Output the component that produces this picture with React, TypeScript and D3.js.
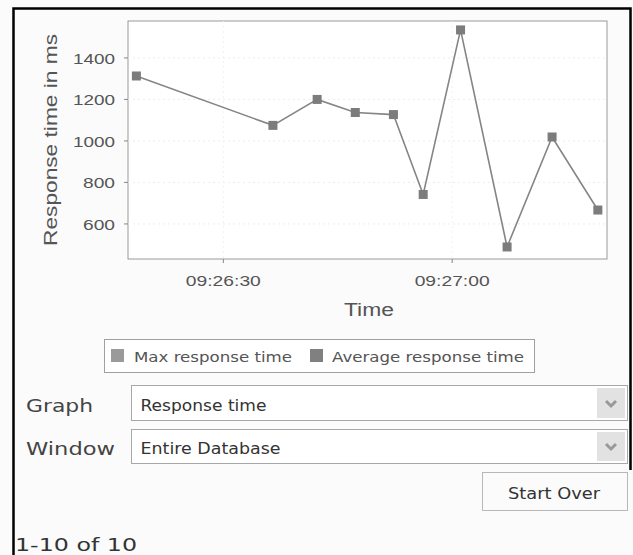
import React from "react";
import * as d3 from "d3";

const times = ["09:26:18.6", "09:26:36.5", "09:26:42.3", "09:26:47.3", "09:26:52.3", "09:26:56.2", "09:27:01.1", "09:27:07.2", "09:27:13.1", "09:27:19.1"];
const responseMs = [1313, 1075, 1200, 1137, 1127, 742, 1535, 489, 1019, 667];
const xTickLabels = ["09:26:30", "09:27:00"];
const yTicks = [600, 800, 1000, 1200, 1400];
const xDomain = ["09:26:17.5", "09:27:20.3"];
const yDomain = [431, 1578];
const legendItems = ["Max response time", "Average response time"];

const parse = (s: string) => {
  const [h, m, sec] = s.split(":");
  return new Date(2000, 0, 1, +h, +m, 0, Math.round(parseFloat(sec) * 1000));
};

export default function App() {
  const W = 633, H = 555;
  const plot = { left: 128, top: 21, right: 607, bottom: 259 };
  const x = d3.scaleTime().domain(xDomain.map(parse)).range([plot.left, plot.right]);
  const y = d3.scaleLinear().domain(yDomain).range([plot.bottom, plot.top]);
  const pts = times.map((t, i) => ({ t: parse(t), v: responseMs[i] }));
  const line = d3.line<{ t: Date; v: number }>().x(d => x(d.t)).y(d => y(d.v));
  const arial = "'Liberation Sans', Arial, sans-serif";
  const tahoma = "'DejaVu Sans', Verdana, sans-serif";
  const chevron = (cx: number, cy: number) => `M${cx - 5},${cy - 2} L${cx},${cy + 3} L${cx + 5},${cy - 2}`;

  return (
    <svg width={W} height={H} style={{ position: "absolute", left: 0, top: 0 }}>
      <rect x={0} y={0} width={W} height={H} fill="#fbfbfb" />
      {/* outer frame */}
      <path d={`M13.5,${H} L13.5,8.5 L630.5,8.5 L630.5,470`} fill="none" stroke="#000" strokeWidth={2.5} />
      {/* plot frame */}
      <rect x={plot.left} y={plot.top} width={plot.right - plot.left} height={plot.bottom - plot.top} fill="#ffffff" stroke="#9a9a9a" strokeWidth={1} />
      {/* faint grid */}
      {yTicks.map(v => (
        <line key={"gy" + v} x1={plot.left} x2={plot.right} y1={y(v)} y2={y(v)} stroke="#ededed" strokeDasharray="2,3" />
      ))}
      {xTickLabels.map(s => (
        <line key={"gx" + s} x1={x(parse(s))} x2={x(parse(s))} y1={plot.top} y2={plot.bottom} stroke="#f1f1f1" strokeDasharray="2,3" />
      ))}
      {/* y ticks */}
      {yTicks.map(v => (
        <g key={"yt" + v}>
          <line x1={plot.left - 4} x2={plot.left} y1={y(v)} y2={y(v)} stroke="#888" />
          <text x={115} y={y(v)} dy="0.36em" textAnchor="end" fontFamily={arial} fontSize={15.5} fill="#555" textLength={v >= 1000 ? 42 : 32} lengthAdjust="spacingAndGlyphs">{v}</text>
        </g>
      ))}
      {/* x ticks */}
      {xTickLabels.map(s => (
        <g key={"xt" + s}>
          <line x1={x(parse(s))} x2={x(parse(s))} y1={plot.bottom} y2={plot.bottom + 4} stroke="#888" />
          <text x={x(parse(s))} y={285.5} textAnchor="middle" fontFamily={arial} fontSize={14.5} fill="#555" textLength={75} lengthAdjust="spacingAndGlyphs">{s}</text>
        </g>
      ))}
      {/* axis titles */}
      <text transform={`translate(57,140) rotate(-90)`} textAnchor="middle" fontFamily={arial} fontSize={17.5} fill="#555" textLength={212} lengthAdjust="spacingAndGlyphs">Response time in ms</text>
      <text x={369} y={316} textAnchor="middle" fontFamily={arial} fontSize={17.5} fill="#555" textLength={50} lengthAdjust="spacingAndGlyphs">Time</text>
      {/* series */}
      <path d={line(pts) || ""} fill="none" stroke="#858585" strokeWidth={1.6} />
      {pts.map((d, i) => (
        <rect key={"p" + i} x={x(d.t) - 4.5} y={y(d.v) - 4.5} width={9} height={9} fill="#7c7c7c" />
      ))}
      {/* legend */}
      <rect x={104.5} y={339.5} width={430} height={33} fill="#fff" stroke="#a0a0a0" />
      <rect x={111} y={349} width={13} height={13} fill="#9a9a9a" />
      <text x={134} y={362} fontFamily={tahoma} fontSize={14} fill="#555" textLength={158} lengthAdjust="spacingAndGlyphs">{legendItems[0]}</text>
      <rect x={310} y={349} width={13} height={13} fill="#808080" />
      <text x={332} y={362} fontFamily={tahoma} fontSize={14} fill="#555" textLength={192} lengthAdjust="spacingAndGlyphs">{legendItems[1]}</text>
      {/* Graph select */}
      <text x={26} y={412} fontFamily={tahoma} fontSize={17} fill="#444" textLength={67} lengthAdjust="spacingAndGlyphs">Graph</text>
      <rect x={131.5} y={385.5} width={496} height={35} fill="#fff" stroke="#a8a8a8" />
      <text x={140.5} y={410.5} fontFamily={tahoma} fontSize={15} fill="#333" textLength={126} lengthAdjust="spacingAndGlyphs">Response time</text>
      <rect x={597} y={388} width={28} height={30} fill="#e2e2e2" />
      <path d={chevron(611, 403)} fill="none" stroke="#999" strokeWidth={3} />
      {/* Window select */}
      <text x={26} y={455} fontFamily={tahoma} fontSize={17} fill="#444" textLength={89} lengthAdjust="spacingAndGlyphs">Window</text>
      <rect x={131.5} y={429.5} width={496} height={34} fill="#fff" stroke="#a8a8a8" />
      <text x={140.5} y={454} fontFamily={tahoma} fontSize={15} fill="#333" textLength={140} lengthAdjust="spacingAndGlyphs">Entire Database</text>
      <rect x={597} y={432} width={28} height={29} fill="#e2e2e2" />
      <path d={chevron(611, 446)} fill="none" stroke="#999" strokeWidth={3} />
      {/* Start Over */}
      <rect x={482.5} y={472.5} width={145} height={38} fill="#fbfbfb" stroke="#b8b8b8" />
      <text x={554} y={499} textAnchor="middle" fontFamily={tahoma} fontSize={16} fill="#333" textLength={92} lengthAdjust="spacingAndGlyphs">Start Over</text>
      {/* pager */}
      <text x={15} y={551} fontFamily={tahoma} fontSize={17} fill="#333" textLength={122} lengthAdjust="spacingAndGlyphs">1-10 of 10</text>
    </svg>
  );
}
